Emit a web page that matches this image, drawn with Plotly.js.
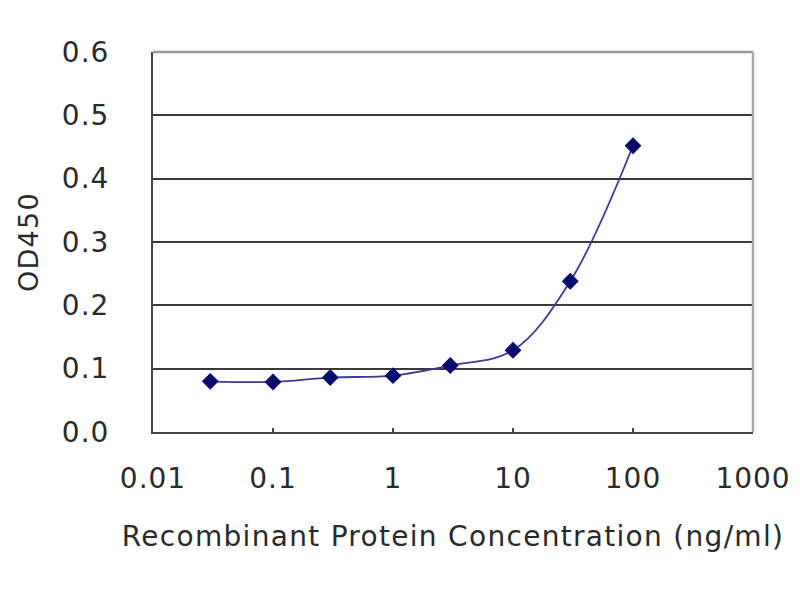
<!DOCTYPE html>
<html>
<head>
<meta charset="utf-8">
<script src="https://cdn.plot.ly/plotly-3.0.1.min.js"></script>
<style>
html,body{margin:0;padding:0;background:#fff;}
#chart{width:800px;height:600px;}
#chart .xtick text, #chart .ytick text {letter-spacing: 1px;}
#chart .g-xtitle text, #chart .g-ytitle text {letter-spacing: 1.3px;}
</style>
</head>
<body>
<div id="chart"></div>
<script>
const concentration = [0.03, 0.1, 0.3, 1, 3, 10, 30, 100];
const od450 = [0.080, 0.079, 0.086, 0.089, 0.105, 0.129, 0.238, 0.452];
const xTickVals = [0.01, 0.1, 1, 10, 100, 1000];
const xTickText = ['0.01', '0.1', '1', '10', '100', '1000'];
const yTickVals = [0, 0.1, 0.2, 0.3, 0.4, 0.5, 0.6];
const yTickText = ['0.0', '0.1', '0.2', '0.3', '0.4', '0.5', '0.6'];

const font = 'DejaVu Sans, Arial, sans-serif';
const txt = '#2a2a2a';
const trace = {
  x: concentration, y: od450, type: 'scatter', mode: 'lines+markers',
  line: {shape: 'spline', smoothing: 1, color: '#3a3a9a', width: 1.8},
  marker: {symbol: 'diamond', size: 13, color: '#0a0a6e'},
  hoverinfo: 'skip'
};
const layout = {
  width: 800, height: 600,
  margin: {l: 153, r: 47, t: 52, b: 168},
  paper_bgcolor: '#fff', plot_bgcolor: '#fff',
  showlegend: false,
  font: {family: font, color: txt, size: 28},
  xaxis: {
    type: 'log', range: [-2, 3],
    tickvals: xTickVals, ticktext: xTickText,
    showgrid: false, zeroline: false,
    showline: true, linecolor: '#444', linewidth: 2,
    ticks: 'inside', ticklen: 4, tickwidth: 1.5, tickcolor: '#444',
    ticklabelstandoff: 20,
    tickfont: {family: font, size: 28, color: txt},
    title: {text: 'Recombinant Protein Concentration (ng/ml)', font: {family: font, size: 28, color: txt}, standoff: 33}
  },
  yaxis: {
    range: [0, 0.6],
    tickvals: yTickVals, ticktext: yTickText,
    showgrid: true, gridcolor: '#3a3a3a', gridwidth: 2,
    zeroline: false,
    showline: true, linecolor: '#444', linewidth: 2,
    ticks: '', ticklabelstandoff: 36,
    tickfont: {family: font, size: 28, color: txt},
    title: {text: 'OD450', font: {family: font, size: 27, color: txt}, standoff: 18}
  },
  shapes: [
    {type: 'line', xref: 'x domain', yref: 'y domain', x0: 0, x1: 1, y0: 1, y1: 1, line: {color: '#999', width: 2.5}},
    {type: 'line', xref: 'x domain', yref: 'y domain', x0: 1, x1: 1, y0: 0, y1: 1, line: {color: '#aaa', width: 2.5}}
  ]
};
Plotly.newPlot('chart', [trace], layout, {staticPlot: true, displayModeBar: false});
</script>
</body>
</html>
